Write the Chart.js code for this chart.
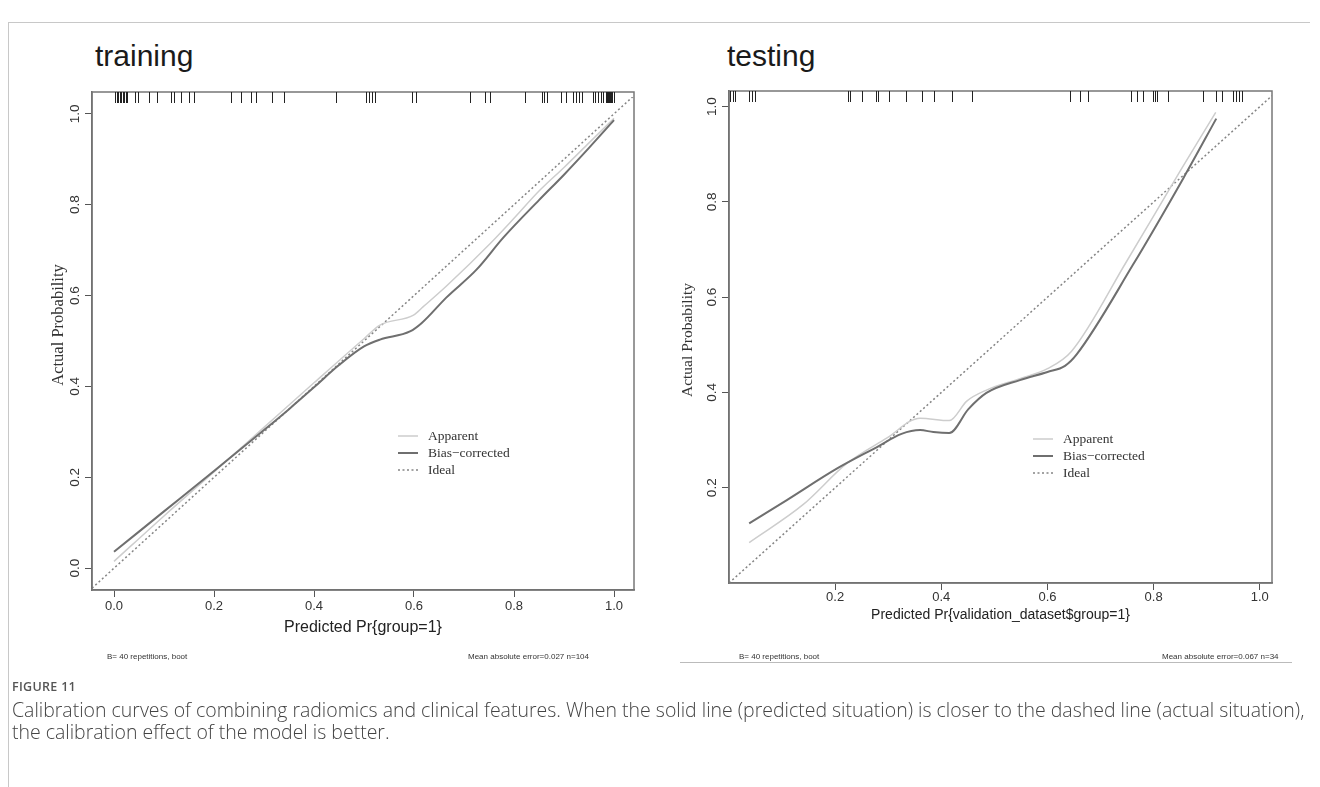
<!DOCTYPE html>
<html>
<head>
<meta charset="utf-8">
<script src="https://cdn.jsdelivr.net/npm/chart.js@4.4.0/dist/chart.umd.min.js"></script>
<style>
  body { margin: 0; background: #fff; width: 1320px; height: 787px; position: relative; overflow: hidden; font-family: "Liberation Sans", Arial, sans-serif; }
  canvas { position: absolute; top: 0; }
  .frame-top { position: absolute; left: 8px; top: 22px; width: 1302px; border-top: 1px solid #c8c8c8; }
  .frame-left { position: absolute; left: 8px; top: 22px; height: 765px; border-left: 1px solid #c8c8c8; }
  .ptitle { position: absolute; top: 41px; font-size: 30px; line-height: 30px; color: #1a1a1a; }
  .note { position: absolute; top: 653px; font-size: 8px; line-height: 8px; color: #333; white-space: nowrap; }
  .rule { position: absolute; left: 680px; top: 662px; width: 612px; border-top: 1px solid #bbb; }
  .figlabel { position: absolute; left: 12px; top: 678px; font-family: "Open Sans", sans-serif; font-weight: 600; font-size: 12.5px; color: #555; letter-spacing: 0.3px; }
  .caption { position: absolute; left: 12px; top: 699px; font-family: "Open Sans", sans-serif; font-weight: 300; font-size: 15px; line-height: 22px; color: #444; white-space: nowrap; }
</style>
</head>
<body>
<div class="frame-top"></div>
<div class="frame-left"></div>
<div class="ptitle" style="left:95px">training</div>
<div class="ptitle" style="left:727px">testing</div>
<canvas id="trainChart" width="660" height="700" style="left:0"></canvas>
<canvas id="testChart" width="660" height="700" style="left:660px"></canvas>
<div class="note" style="left:107px">B= 40 repetitions, boot</div>
<div class="note" style="left:468px">Mean absolute error=0.027 n=104</div>
<div class="note" style="left:739px">B= 40 repetitions, boot</div>
<div class="note" style="left:1162px">Mean absolute error=0.067 n=34</div>
<div class="rule"></div>
<div class="figlabel">FIGURE 11</div>
<div class="caption"><span id="cap1">Calibration curves of combining radiomics and clinical features. When the solid line (predicted situation) is closer to the dashed line (actual situation),</span><br><span>the calibration effect of the model is better.</span></div>

<script>
// training set
const trainTicksX = [0, 0.2, 0.4, 0.6, 0.8, 1.0];
const trainTicksY = [0, 0.2, 0.4, 0.6, 0.8, 1.0];
const trainApparentX = [0, 0.1, 0.2, 0.3, 0.4, 0.5, 0.532, 0.599, 0.618, 0.665, 0.752, 0.8, 0.85, 0.9, 0.95, 1.0];
const trainApparentY = [0.015, 0.115, 0.212, 0.31, 0.408, 0.505, 0.535, 0.557, 0.575, 0.621, 0.714, 0.77, 0.83, 0.882, 0.936, 0.99];
const trainBiasX = [0, 0.1, 0.2, 0.3, 0.35, 0.4, 0.45, 0.5, 0.532, 0.592, 0.615, 0.665, 0.725, 0.779, 0.85, 0.9, 0.95, 1.0];
const trainBiasY = [0.036, 0.125, 0.214, 0.304, 0.35, 0.398, 0.447, 0.488, 0.503, 0.521, 0.539, 0.596, 0.657, 0.728, 0.81, 0.866, 0.925, 0.986];
const trainIdeal = [-0.044, 1.04];
const trainRug = [0.002, 0.005, 0.008, 0.011, 0.014, 0.017, 0.02, 0.023, 0.026, 0.041, 0.048, 0.069, 0.085,
  0.113, 0.119, 0.133, 0.149, 0.16, 0.233, 0.254, 0.273, 0.284, 0.316, 0.34, 0.443,
  0.504, 0.509, 0.515, 0.521, 0.596, 0.604, 0.713, 0.741, 0.752, 0.821, 0.855, 0.86, 0.865,
  0.894, 0.904, 0.918, 0.923, 0.929, 0.935, 0.957, 0.963, 0.968, 0.973, 0.979, 0.984,
  0.987, 0.989, 0.991, 0.993, 0.995, 0.997, 0.999];

// testing set
const testTicksX = [0.2, 0.4, 0.6, 0.8, 1.0];
const testTicksY = [0.2, 0.4, 0.6, 0.8, 1.0];
const testApparentX = [0.038, 0.14, 0.222, 0.297, 0.36, 0.415, 0.448, 0.485, 0.548, 0.6, 0.645, 0.749, 0.849, 0.917];
const testApparentY = [0.085, 0.165, 0.251, 0.304, 0.346, 0.341, 0.382, 0.405, 0.429, 0.45, 0.486, 0.675, 0.863, 0.988];
const testBiasX = [0.038, 0.109, 0.203, 0.278, 0.325, 0.36, 0.385, 0.415, 0.451, 0.485, 0.548, 0.6, 0.633, 0.655, 0.761, 0.856, 0.918];
const testBiasY = [0.125, 0.174, 0.24, 0.285, 0.313, 0.321, 0.317, 0.315, 0.365, 0.399, 0.426, 0.443, 0.456, 0.48, 0.668, 0.85, 0.975];
const testIdeal = [0, 1.023];
const testRug = [0.002, 0.007, 0.011, 0.038, 0.044, 0.049, 0.225, 0.228, 0.25, 0.277, 0.28, 0.301,
  0.333, 0.363, 0.387, 0.421, 0.458, 0.642, 0.661, 0.677, 0.758, 0.768, 0.78, 0.799, 0.802,
  0.806, 0.827, 0.893, 0.918, 0.928, 0.95, 0.956, 0.961, 0.966];

const legendLabels = ["Apparent", "Bias\u2212corrected", "Ideal"];
const yAxisTitle = "Actual Probability";

function toPoints(xs, ys) {
  return xs.map((x, i) => ({ x: x, y: ys[i] }));
}

// box, rug, y title and legend inside the plot region
const panelDecor = {
  id: "panelDecor",
  afterDatasetsDraw(chart, args, opts) {
    const { ctx, chartArea: a, scales } = chart;
    ctx.save();
    ctx.strokeStyle = "#777";
    ctx.lineWidth = 1.5;
    ctx.strokeRect(a.left, a.top, a.right - a.left, a.bottom - a.top);

    ctx.strokeStyle = "#222";
    ctx.lineWidth = 1;
    opts.rug.forEach((v) => {
      const x = Math.round(scales.x.getPixelForValue(v)) + 0.5;
      ctx.beginPath();
      ctx.moveTo(x, a.top);
      ctx.lineTo(x, a.top + 11);
      ctx.stroke();
    });

    // y axis title, R style (centred a bit above the box middle)
    ctx.save();
    ctx.translate(opts.yTitleX, (a.top + a.bottom) / 2 + opts.yTitleDy);
    ctx.rotate(-Math.PI / 2);
    ctx.font = opts.yTitleFont;
    ctx.fillStyle = "#333";
    ctx.textAlign = "center";
    ctx.textBaseline = "middle";
    ctx.fillText(yAxisTitle, 0, 0);
    ctx.restore();

    ctx.font = opts.legendFont;
    ctx.textBaseline = "middle";
    ctx.textAlign = "left";
    ctx.fillStyle = "#333";
    chart.data.datasets.forEach((ds, i) => {
      const y = a.top + opts.legendTop + i * opts.legendGap;
      ctx.strokeStyle = ds.borderColor;
      ctx.lineWidth = ds.borderWidth;
      ctx.setLineDash(ds.borderDash || []);
      ctx.beginPath();
      ctx.moveTo(a.left + opts.legendX, y);
      ctx.lineTo(a.left + opts.legendX + 20, y);
      ctx.stroke();
      ctx.setLineDash([]);
      ctx.fillText(ds.label, a.left + opts.legendX + 30, y);
    });
    ctx.restore();
  },
};

function createPanel(el, cfg) {
  return new Chart(el, {
    type: "scatter",
    data: {
      datasets: [
        {
          label: legendLabels[0],
          data: toPoints(cfg.appX, cfg.appY),
          borderColor: "#cdcdcd",
          borderWidth: 1.5,
          order: 1,
        },
        {
          label: legendLabels[1],
          data: toPoints(cfg.biasX, cfg.biasY),
          borderColor: "#6f6f6f",
          borderWidth: 2,
          order: 0,
        },
        {
          label: legendLabels[2],
          data: toPoints(cfg.ideal, cfg.ideal),
          borderColor: "#858585",
          borderWidth: 1.5,
          borderDash: [2, 2.5],
          order: 2,
        },
      ].map((d) => Object.assign(d, { showLine: true, pointRadius: 0, cubicInterpolationMode: "monotone" })),
    },
    options: {
      responsive: false,
      animation: false,
      devicePixelRatio: 1,
      layout: { padding: cfg.padding },
      scales: {
        x: {
          type: "linear",
          min: cfg.rangeX[0],
          max: cfg.rangeX[1],
          afterBuildTicks: (s) => { s.ticks = cfg.ticksX.map((v) => ({ value: v })); },
          afterFit: (s) => { s.height = cfg.xHeight; },
          grid: { drawOnChartArea: false, tickLength: 7, color: "#555" },
          border: { display: true, color: "#666", width: 1.5 },
          ticks: {
            padding: cfg.xPad,
            color: "#333",
            font: { family: "Liberation Sans", size: 13 },
            callback: (v) => Number(v).toFixed(1),
          },
          title: {
            display: true,
            text: cfg.xTitle,
            color: "#222",
            font: { family: "Liberation Sans", size: cfg.xTitleSize },
            padding: { top: 0, bottom: 0 },
          },
        },
        y: {
          type: "linear",
          min: cfg.rangeY[0],
          max: cfg.rangeY[1],
          afterBuildTicks: (s) => { s.ticks = cfg.ticksY.map((v) => ({ value: v })); },
          afterFit: (s) => { s.width = cfg.yWidth; },
          grid: { drawOnChartArea: false, tickLength: 7, color: "#555" },
          border: { display: true, color: "#666", width: 1.5 },
          ticks: {
            minRotation: 90,
            maxRotation: 90,
            crossAlign: "center",
            padding: 0,
            color: "#333",
            font: { family: "Liberation Sans", size: 13.5 },
            callback: (v) => Number(v).toFixed(1),
          },
        },
      },
      plugins: {
        legend: { display: false },
        tooltip: { enabled: false },
        panelDecor: cfg.decor,
      },
    },
    plugins: [panelDecor],
  });
}

createPanel(document.getElementById("trainChart"), {
  appX: trainApparentX, appY: trainApparentY,
  biasX: trainBiasX, biasY: trainBiasY,
  ideal: trainIdeal,
  ticksX: trainTicksX, ticksY: trainTicksY,
  rangeX: [-0.044, 1.04], rangeY: [-0.048, 1.048],
  padding: { left: 0, top: 92, right: 26, bottom: 63 },
  xHeight: 47, yWidth: 92, xPad: 2,
  xTitle: "Predicted Pr{group=1}", xTitleSize: 16,
  decor: { rug: trainRug, legendX: 306, legendTop: 344, legendGap: 17, legendFont: "13.5px 'Liberation Serif'",
    yTitleX: 59, yTitleDy: -16, yTitleFont: "16.5px 'Liberation Serif'" },
});

createPanel(document.getElementById("testChart"), {
  appX: testApparentX, appY: testApparentY,
  biasX: testBiasX, biasY: testBiasY,
  ideal: testIdeal,
  ticksX: testTicksX, ticksY: testTicksY,
  rangeX: [0, 1.023], rangeY: [0, 1.033],
  padding: { left: 0, top: 91, right: 48, bottom: 76 },
  xHeight: 41, yWidth: 69, xPad: 0,
  xTitle: "Predicted Pr{validation_dataset$group=1}", xTitleSize: 14,
  decor: { rug: testRug, legendX: 304, legendTop: 348, legendGap: 17, legendFont: "13.5px 'Liberation Serif'",
    yTitleX: 28, yTitleDy: 3, yTitleFont: "15.5px 'Liberation Serif'" },
});

// stretch caption line to the reference width
const cap = document.getElementById("cap1");
const capEl = cap.parentElement;
const fs = 15 * 1293 / cap.getBoundingClientRect().width;
capEl.style.fontSize = fs.toFixed(2) + "px";
</script>
</body>
</html>
